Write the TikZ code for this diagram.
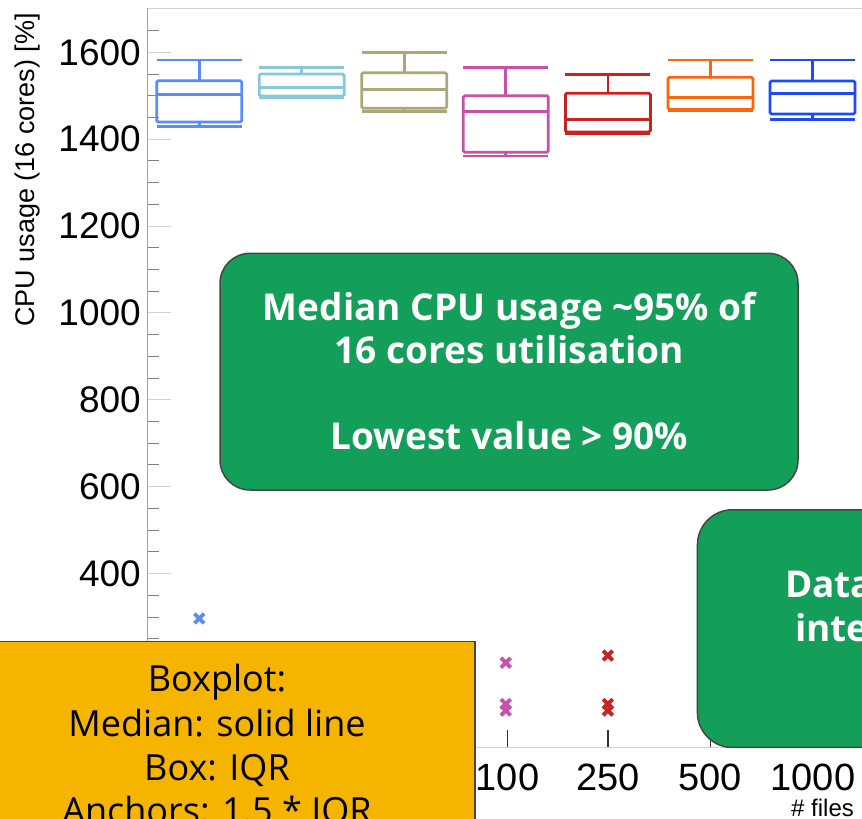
\documentclass[tikz,border=0pt]{standalone}
\usepackage{fontspec}
\setmainfont{Liberation Sans}
\newfontfamily\osans{Open Sans}
\definecolor{cA}{RGB}{88,140,250}
\definecolor{cB}{RGB}{135,200,220}
\definecolor{cC}{RGB}{170,168,120}
\definecolor{cD}{RGB}{200,80,170}
\definecolor{cE}{RGB}{200,35,30}
\definecolor{cF}{RGB}{255,100,10}
\definecolor{cG}{RGB}{30,75,250}
\definecolor{gfill}{RGB}{19,158,89}
\definecolor{ofill}{RGB}{244,180,0}
\definecolor{edgec}{RGB}{70,70,70}
\definecolor{axisc}{RGB}{160,160,160}
\definecolor{lightc}{RGB}{210,210,210}
\definecolor{minorc}{RGB}{130,130,130}
\newcommand\boxplt[7]{%
  \draw[bxline,#1] ({#2-42.5},#3) -- ({#2+42.5},#3);
  \draw[bxline,#1] (#2,#3) -- (#2,#4);
  \draw[bxline,#1,rounded corners=1.5pt] ({#2-42.5},#4) rectangle ({#2+42.5},#6);
  \draw[bxline,#1] ({#2-42.5},#5) -- ({#2+42.5},#5);
  \draw[bxline,#1] (#2,#6) -- (#2,#7);
  \draw[bxline,#1] ({#2-42.5},#7) -- ({#2+42.5},#7);
}
\newcommand\outx[3]{%
  \draw[#1,line width=3.8pt] ({#2-4.8},{#3-4.8}) -- ({#2+4.8},{#3+4.8})
       ({#2-4.8},{#3+4.8}) -- ({#2+4.8},{#3-4.8});
}
\tikzset{
  bxline/.style={line width=2.8pt},
  ylab/.style={anchor=east,inner sep=0pt,font=\fontsize{37}{40}\selectfont},
  xlab/.style={anchor=center,inner sep=0pt,font=\fontsize{38}{40}\selectfont},
  gbox/.style={draw=edgec,line width=1.5pt,fill=gfill,rounded corners=30pt,inner sep=0pt},
  obox/.style={draw=edgec,line width=1.5pt,fill=ofill,inner sep=0pt},
  gtext/.style={text=white,inner sep=0pt,anchor=base,font=\osans\bfseries\fontsize{37}{40}\selectfont},
  otext/.style={text=black,inner sep=0pt,anchor=base,font=\osans\fontsize{36}{40}\selectfont},
}
\begin{document}
\begin{tikzpicture}[x=1pt,y=-1pt]
\useasboundingbox (0,0) rectangle (862,819);
\clip (0,0) rectangle (862,819);
\fill[white] (0,0) rectangle (862,819);
% frame
\draw[lightc,line width=1pt] (147.7,8) -- (862,8);
\draw[lightc,line width=1pt] (147.7,747.3) -- (862,747.3);
\draw[axisc,line width=1pt] (147.7,8) -- (147.7,747.3);
% y ticks
\foreach \v in {0,200,...,1600}
  \draw[lightc,line width=1pt] (147.7,{52.3+(1600-\v)*0.4344}) -- (170.5,{52.3+(1600-\v)*0.4344});
\foreach \v in {50,100,150,250,300,350,450,500,550,650,700,750,850,900,950,1050,1100,1150,1250,1300,1350,1450,1500,1550,1650}
  \draw[minorc,line width=1pt] (147.7,{52.3+(1600-\v)*0.4344}) -- (159,{52.3+(1600-\v)*0.4344});
\foreach \v in {400,600,...,1600}
  \node[ylab] (yl\v) at (141,{52.3+(1600-\v)*0.4344}) {\v};
\node[rotate=90,anchor=base,inner sep=0pt,font=\fontsize{27}{30}\selectfont] (ytitle) at (34.5,170) {CPU usage (16 cores) [\%]};
% x ticks and labels
\foreach \cx in {507.5,608,710.7,813}
  \draw[black!80,line width=1.2pt] (\cx,730) -- (\cx,747.3);
\node[xlab] (xl100) at (507.5,777) {100};
\node[xlab] (xl250) at (608,777) {250};
\node[xlab] (xl500) at (710.2,777) {500};
\node[xlab] (xl1000) at (813,777) {1000};
\node[anchor=base west,inner sep=0pt,font=\fontsize{24}{26}\selectfont] (xtitle) at (791,816) {\# files};
% boxplots
\boxplt{cA}{199.2}{60}{80.7}{94.3}{122}{126.7}
\boxplt{cB}{301.7}{67.3}{74}{87.7}{96}{97.5}
\boxplt{cC}{404.2}{52.7}{72.7}{89.3}{108.3}{111.7}
\boxplt{cD}{505.8}{67.3}{95.7}{111.7}{152.3}{156}
\boxplt{cE}{607.9}{74.3}{93.3}{119.3}{132}{133.5}
\boxplt{cF}{710.5}{60}{77.3}{97.7}{109.5}{111}
\boxplt{cG}{812.5}{60}{81}{93.3}{114}{119.3}
% outliers
\outx{cA}{199.2}{618.5}
\outx{cD}{505.8}{662.7}
\outx{cD}{505.8}{704}
\outx{cD}{505.8}{710.5}
\outx{cE}{607.9}{655.5}
\outx{cE}{607.9}{704}
\outx{cE}{607.9}{710.5}
% green box 1
\node[gbox,minimum width=578pt,minimum height=236.7pt] (g1) at (509,371.65) {};
\node[gtext] (g1a) at (509.5,320) {Median CPU usage \textasciitilde95\% of};
\node[gtext] (g1b) at (509.5,363) {16 cores utilisation};
\node[gtext] (g1c) at (509.5,449) {Lowest value > 90\%};
% green box 2
\node[gbox,rounded corners=35pt,anchor=north west,minimum width=400pt,minimum height=237.7pt] (g2) at (696.7,509) {};
\node[gtext,anchor=base west] (g2a) at (785,597.7) {Data};
\node[gtext,anchor=base west] (g2b) at (795,641.7) {inte};
% orange box
\node[obox,anchor=north west,minimum width=514pt,minimum height=230pt] (ob) at (-40,640.7) {};
\node[otext] (oa) at (217,691.7) {Boxplot:};
\node[otext] (obb) at (217,736.7) {Median: solid line};
\node[otext] (oc) at (217,780) {Box: IQR};
\node[otext] (od) at (217,823) {Anchors: 1.5 * IQR};
\end{tikzpicture}
\end{document}
